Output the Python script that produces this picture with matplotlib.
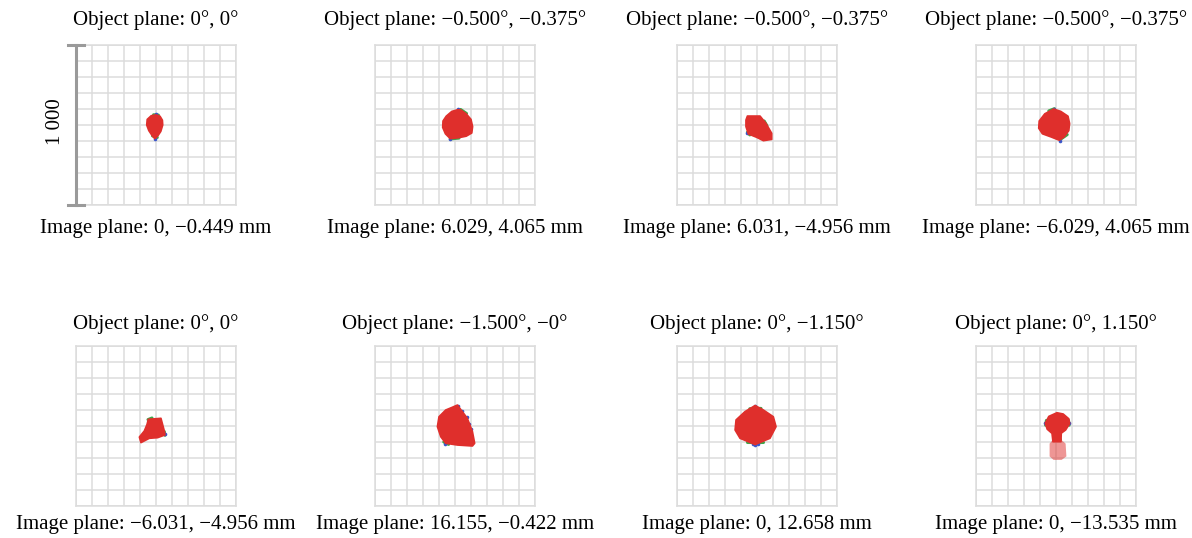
import numpy as np
import matplotlib
matplotlib.use("Agg")
import matplotlib.pyplot as plt

plt.rcParams['font.family'] = ['Liberation Serif', 'DejaVu Serif']

# Field labels for the eight spot diagrams (row-major)
object_fields = ["0°, 0°", "−0.500°, −0.375°", "−0.500°, −0.375°", "−0.500°, −0.375°",
                 "0°, 0°", "−1.500°, −0°", "0°, −1.150°", "0°, 1.150°"]
image_positions = ["0, −0.449 mm", "6.029, 4.065 mm", "6.031, −4.956 mm", "−6.029, 4.065 mm",
                   "−6.031, −4.956 mm", "16.155, −0.422 mm", "0, 12.658 mm", "0, −13.535 mm"]
scale_label = "1 000"

# Spot outlines in grid-cell units (10 x 10 grid, centre = 0, 0)
spot_1 = [(-0.30, 0.58), (0.00, 0.63), (0.25, 0.55), (0.40, 0.30), (0.42, 0.00), (0.30, -0.40),
          (0.10, -0.70), (-0.08, -0.85), (-0.25, -0.65), (-0.45, -0.35), (-0.58, 0.00), (-0.55, 0.35)]
spot_2 = [(-0.55, 0.55), (-0.20, 0.85), (0.15, 0.95), (0.35, 0.95), (0.70, 0.70), (1.00, 0.35),
          (1.10, -0.10), (1.05, -0.50), (0.70, -0.70), (0.20, -0.80), (-0.30, -0.85), (-0.60, -0.55),
          (-0.77, -0.15), (-0.75, 0.25)]
spot_3 = [(-0.60, 0.56), (0.19, 0.56), (0.56, 0.10), (0.92, -0.52), (0.92, -0.90), (0.40, -0.98),
          (-0.02, -0.77), (-0.54, -0.56), (-0.69, -0.10), (-0.69, 0.31)]
spot_4 = [(-0.15, 1.00), (0.30, 0.85), (0.75, 0.55), (0.85, 0.10), (0.80, -0.35), (0.50, -0.75),
          (0.20, -0.95), (-0.30, -0.75), (-0.85, -0.55), (-1.08, -0.20), (-1.05, 0.25), (-0.70, 0.70)]
spot_5 = [(-0.48, 0.42), (0.31, 0.48), (0.52, -0.31), (0.56, -0.56), (0.10, -0.73), (-0.42, -0.77),
          (-0.94, -1.04), (-1.04, -0.69), (-0.73, -0.31), (-0.56, 0.10)]
spot_6 = [(0.15, 1.31), (0.77, 0.48), (1.09, -0.35), (1.23, -1.08), (1.09, -1.25), (0.15, -1.19),
          (-0.58, -1.08), (-0.89, -0.67), (-1.10, -0.04), (-1.00, 0.58), (-0.58, 1.00), (-0.17, 1.17)]
spot_7 = [(-0.12, 1.28), (-0.75, 0.90), (-1.31, 0.38), (-1.37, -0.25), (-1.06, -0.77), (-0.12, -1.16),
          (0.81, -0.77), (1.19, -0.04), (1.02, 0.58), (0.40, 1.00)]
spot_8 = [(0.06, 0.83), (0.45, 0.75), (0.80, 0.45), (0.85, 0.15), (0.60, -0.25), (0.33, -0.45),
          (0.31, -0.98), (-0.19, -0.98), (-0.25, -0.46), (-0.55, -0.20), (-0.67, 0.17), (-0.45, 0.60)]
spot_8_tail = [(-0.19, -0.85), (0.31, -0.85), (0.60, -1.10), (0.65, -1.90), (0.35, -2.12),
               (-0.15, -2.12), (-0.40, -1.90), (-0.40, -1.10)]

# Green fringe segments and blue outliers per spot
green_1 = [[(-0.15, 0.64), (0.15, 0.62)], [(-0.22, -0.68), (0.08, -0.78)]]
blue_1 = [(0.00, 0.66), (-0.08, -0.87)]
green_2 = [[(0.35, 0.97), (0.72, 0.72)], [(-0.30, -0.87), (0.25, -0.82)]]
blue_2 = [(0.18, 0.97), (-0.30, -0.90)]
green_3 = [[(0.45, 0.25), (0.62, -0.05)], [(-0.60, -0.45), (-0.45, -0.62)]]
blue_3 = [(0.58, -0.10), (-0.60, -0.50)]
green_4 = [[(-0.45, 0.88), (-0.10, 1.02)], [(0.30, -0.88), (0.70, -0.60)]]
blue_4 = [(-0.15, 1.02), (0.22, -0.97)]
green_5 = [[(-0.50, 0.40), (-0.25, 0.50)], [(0.52, -0.35), (0.56, -0.58)]]
blue_5 = [(0.56, -0.48)]
green_6 = [[(0.10, 1.20), (0.62, 0.55), (0.90, -0.10)], [(-0.70, -1.00), (-0.40, -1.15)]]
blue_6 = [(0.20, 1.26), (0.45, 0.95), (0.73, 0.55), (0.90, 0.15), (1.00, -0.20), (-0.60, -1.10)]
green_7 = [[(-0.45, 1.08), (0.25, 1.10)], [(-0.60, -1.00), (0.40, -1.00)]]
blue_7 = [(-0.12, 1.27), (-0.12, -1.17), (-0.25, -1.13), (0.05, -1.15)]
green_8 = [[(-0.60, 0.35), (-0.65, 0.05)], [(0.78, 0.35), (0.82, 0.05)], [(-0.15, -0.80), (0.25, -0.80)]]
blue_8 = [(-0.66, 0.17), (0.84, 0.17)]

spots = [spot_1, spot_2, spot_3, spot_4, spot_5, spot_6, spot_7, spot_8]
greens = [green_1, green_2, green_3, green_4, green_5, green_6, green_7, green_8]
blues = [blue_1, blue_2, blue_3, blue_4, blue_5, blue_6, blue_7, blue_8]

RED = "#df2f2c"
GREEN = "#3fa54a"
BLUE = "#3a55c8"
GRID = "#dcdcdc"

W, H = 1192, 538
fig = plt.figure(figsize=(W / 100, H / 100), dpi=100)
fig.patch.set_facecolor("white")

col_left = [76, 375, 677, 976]
row_top = [45, 346]
box = 160
title_y = [20, 324]
label_y = [228, 525]

axes = []
for i in range(8):
    r, c = divmod(i, 4)
    left = col_left[c]
    top = row_top[r]
    ax = fig.add_axes([left / W, 1 - (top + box) / H, box / W, box / H])
    ax.set_xlim(-5, 5)
    ax.set_ylim(-5, 5)
    ax.set_xticks(np.arange(-5, 6, 1))
    ax.set_yticks(np.arange(-5, 6, 1))
    ax.tick_params(length=0, labelbottom=False, labelleft=False)
    ax.grid(True, color=GRID, lw=1.1)
    ax.set_axisbelow(True)
    for s in ax.spines.values():
        s.set_color(GRID)
        s.set_linewidth(1.1)

    for seg in greens[i]:
        gx, gy = zip(*seg)
        ax.plot(gx, gy, color=GREEN, lw=2.2, solid_capstyle="round", zorder=2)
    bx, by = zip(*blues[i])
    ax.plot(bx, by, "o", ms=2.6, color=BLUE, mec="none", zorder=2.5)

    sx, sy = zip(*spots[i])
    ax.fill(sx, sy, color=RED, lw=1.2, ec=RED, zorder=3, joinstyle="round")

    if i == 7:
        tx, ty = zip(*spot_8_tail)
        ax.fill(tx, ty, color=RED, alpha=0.5, lw=0, zorder=2.8)

    cx = (left + box / 2) / W
    fig.text(cx, 1 - title_y[r] / H, "Object plane: " + object_fields[i],
             ha="center", va="center", fontsize=15)
    fig.text(cx, 1 - label_y[r] / H, "Image plane: " + image_positions[i],
             ha="center", va="center", fontsize=15)
    axes.append(ax)

# Scale bar on the first panel
ax0 = axes[0]
bar_col = "#9a9a9a"
ax0.plot([-5, -5], [-5, 5], color=bar_col, lw=2.2, clip_on=False, zorder=5)
ax0.plot([-5.5, -4.5], [5, 5], color=bar_col, lw=2.2, clip_on=False, zorder=5)
ax0.plot([-5.5, -4.5], [-5, -5], color=bar_col, lw=2.2, clip_on=False, zorder=5)
fig.text(55 / W, 1 - 122 / H, scale_label, rotation=90, ha="center", va="center", fontsize=15)

fig.savefig("out.png", dpi=100, facecolor="white")
